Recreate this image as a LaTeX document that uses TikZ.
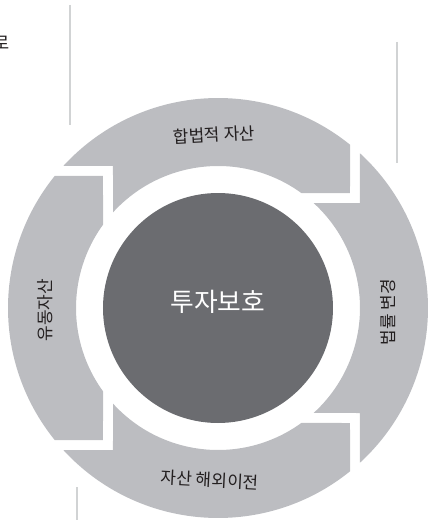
\documentclass[tikz,border=0pt]{standalone}
\usepackage{fontspec}
\usepackage{xcolor}
\newfontfamily\kr{Noto Sans CJK KR}
\usetikzlibrary{positioning}
\definecolor{ringgray}{HTML}{BCBDC1}
\definecolor{coregray}{HTML}{6B6C70}
\definecolor{rulegray}{HTML}{D1D3D4}
\definecolor{labeltext}{HTML}{231F20}

\begin{document}
\begin{tikzpicture}[scale=0.03,
  seg/.style={fill=ringgray, draw=none},
  lbl/.style={text=labeltext, inner sep=0pt, font=\kr\fontsize{14.5}{14.5}\selectfont},
  guide/.style={draw=rulegray, line width=1.3pt}]
\useasboundingbox (-218,-212) rectangle (211,308);

% ring segments
\path[seg] (137.45:210) arc[start angle=137.45, end angle=51.05, radius=210]
  -- (132,115) -- (54.08:142) arc[start angle=54.08, end angle=137.68, radius=142]
  -- (-105,142) -- cycle;
\path[seg] (47.45:210) arc[start angle=47.45, end angle=-47.45, radius=210]
  -- (142,-105) -- (-47.68:142) arc[start angle=-47.68, end angle=47.68, radius=142]
  -- (142,105) -- cycle;
\path[seg] (-137.45:210) arc[start angle=-137.45, end angle=-51.05, radius=210]
  -- (132,-115) -- (-54.08:142) arc[start angle=-54.08, end angle=-137.68, radius=142]
  -- (-105,-142) -- cycle;
\path[seg] (141.05:210) arc[start angle=141.05, end angle=218.95, radius=210]
  -- (-115,-132) -- (215.92:142) arc[start angle=215.92, end angle=144.08, radius=142]
  -- (-115,132) -- cycle;

% core
\node[circle, fill=coregray, minimum size=230*0.03cm, inner sep=0pt] (core) at (0,0) {};
\node[text=white, font=\kr\fontsize{22}{22}\selectfont] (corelbl) at (0,6) {투자보호};

% labels
\node[lbl, rotate=3] (legal) at (-4,173) {합법적 자산};
\node[lbl, rotate=90] (lawchg) at (170,-4) {법률 변경};
\node[lbl, rotate=-3] (offshore) at (-8,-172) {자산 해외이전};
\node[lbl, rotate=90] (liquid) at (-173,-2) {유동자산};

% guide rules
\draw[guide] (-148,303) -- (-148,183);
\draw[guide] (179,266) -- (179,145);
\draw[guide] (-141,-179) -- (-141,-212);

\node[lbl, font=\kr\fontsize{15}{15}\selectfont] (cutoff) at (-216,265) {로};
\end{tikzpicture}
\end{document}
